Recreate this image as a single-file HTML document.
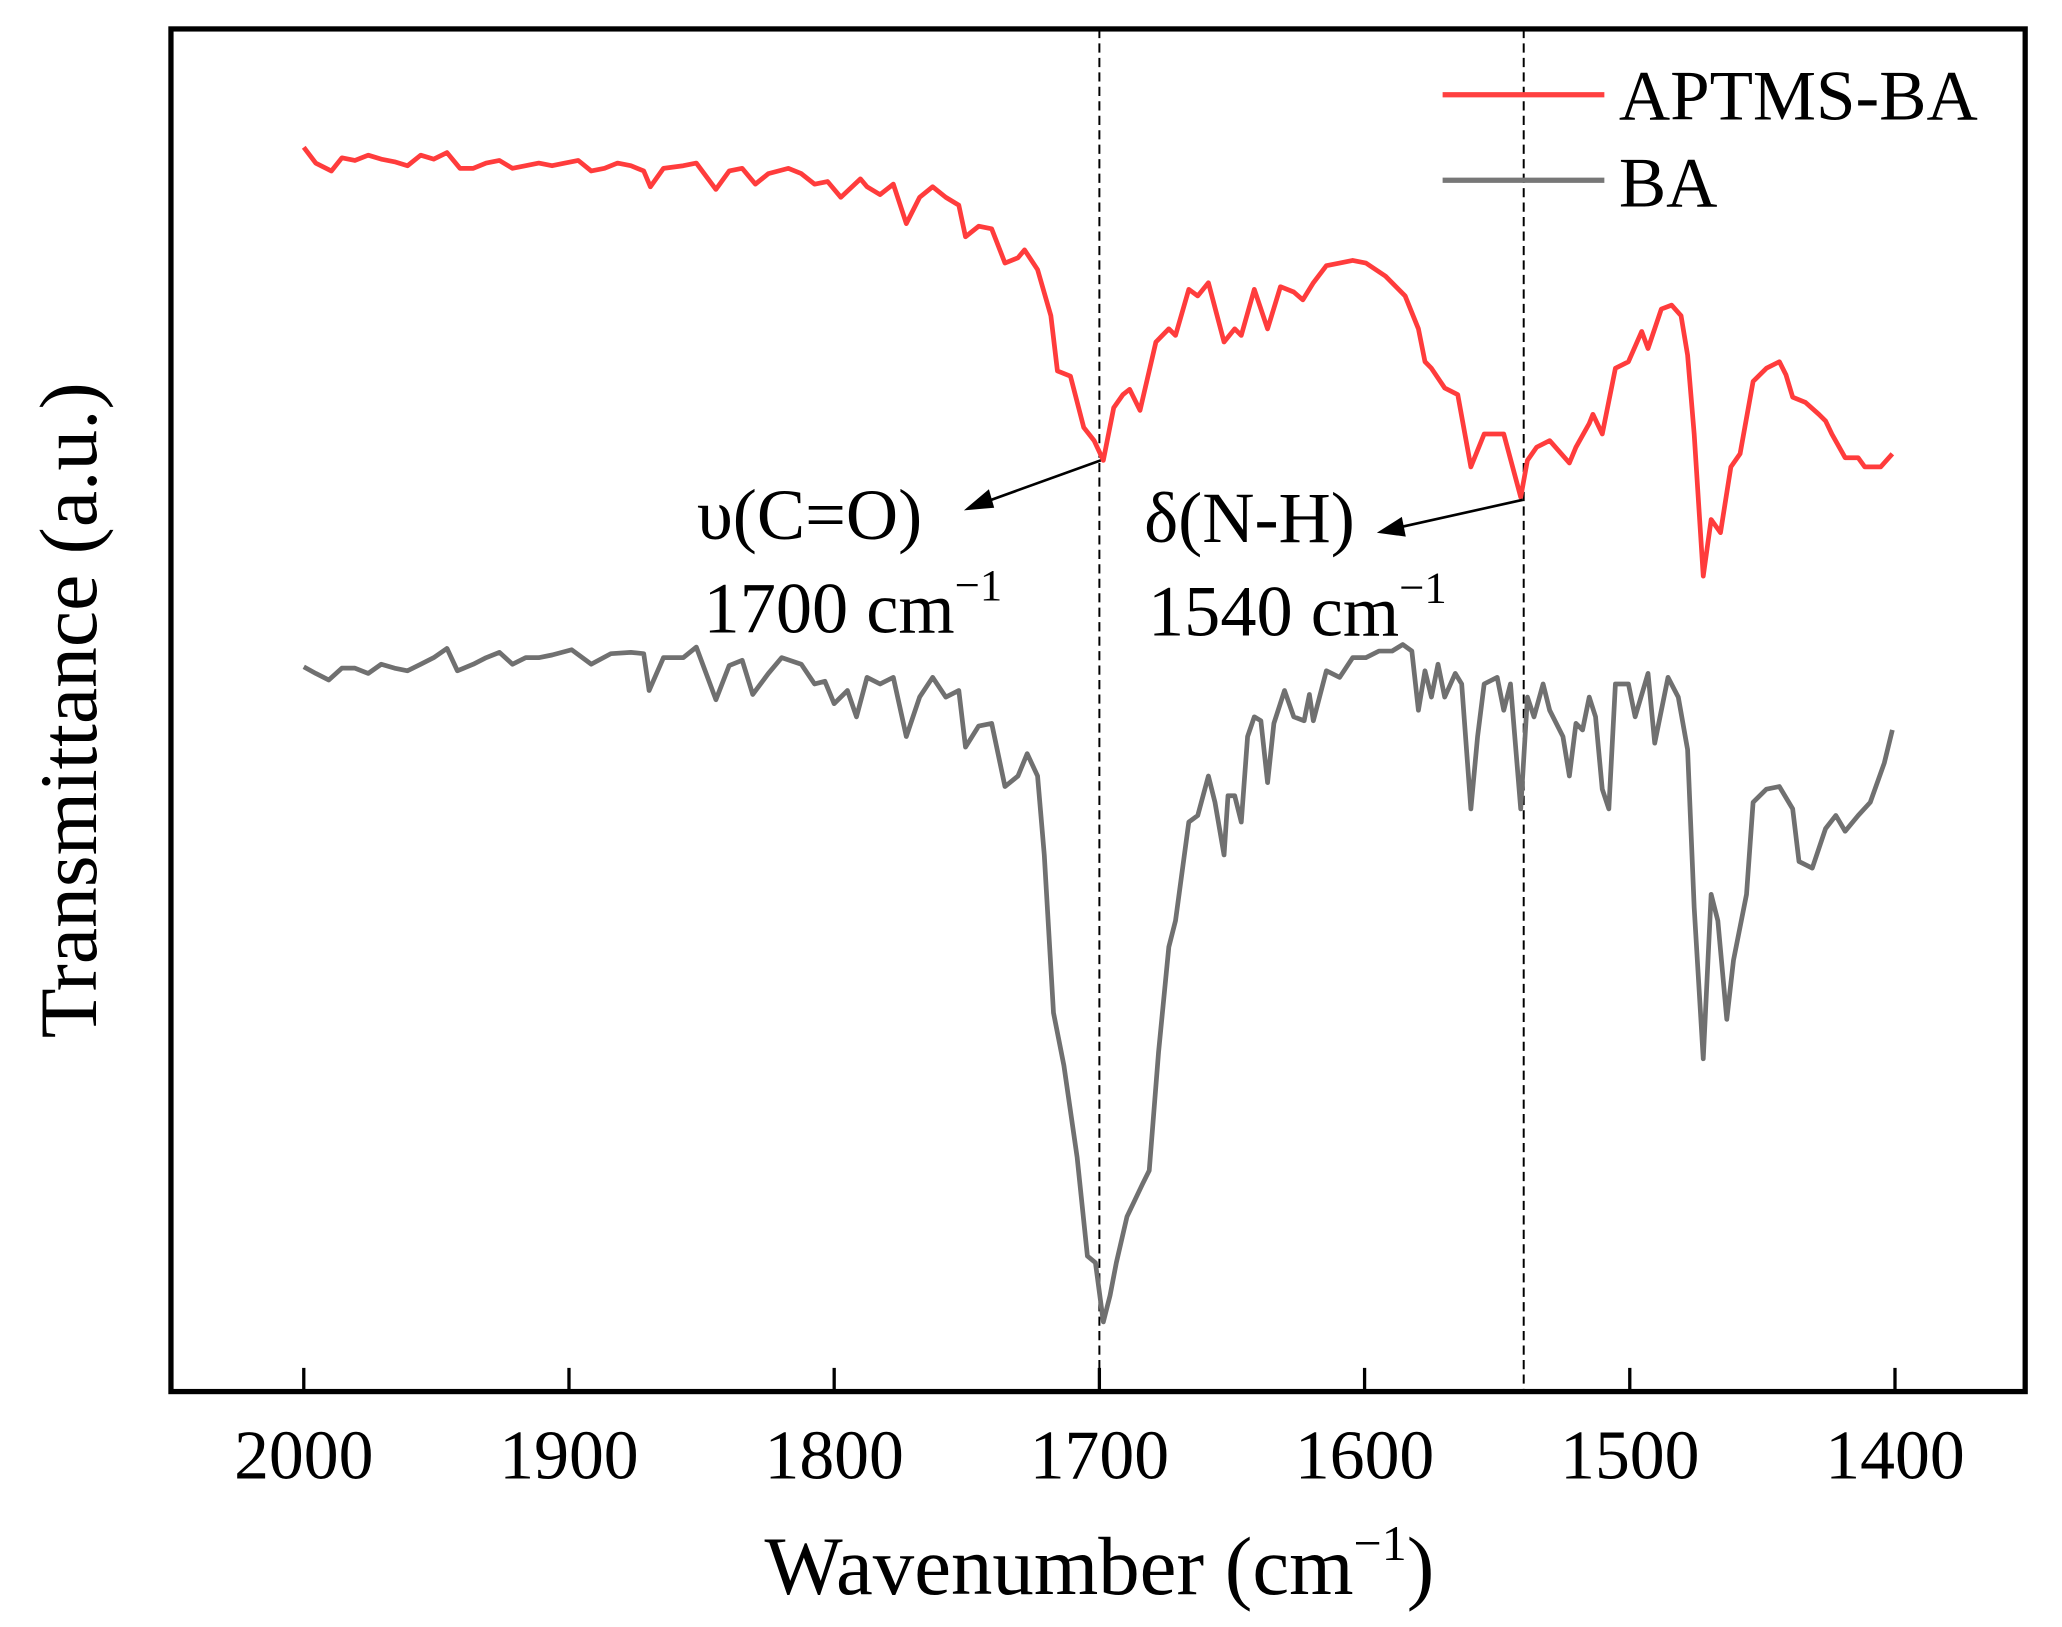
<!DOCTYPE html>
<html><head><meta charset="utf-8"><style>
html,body{margin:0;padding:0;background:#fff;}
svg{display:block;font-family:"Liberation Serif",serif;}
</style></head><body>
<svg id="chart" width="2062" height="1627" viewBox="0 0 1568 1237" preserveAspectRatio="none" xmlns="http://www.w3.org/2000/svg">
<rect x="0" y="0" width="1568" height="1237" fill="#fff"/>
<g id="plot"></g>
<rect x="130" y="22" width="1410" height="1036" fill="none" stroke="#000" stroke-width="4"/>
<g id="ticks"></g>
<text x="836" y="1212" font-size="63" text-anchor="middle">Wavenumber (cm<tspan font-size="38" dy="-26">−1</tspan><tspan dy="26">)</tspan></text>
<text transform="translate(73,540) rotate(-90)" font-size="62" text-anchor="middle">Transmittance (a.u.)</text>
<g>
<line x1="1097" y1="72" x2="1220" y2="72" stroke="#ff4040" stroke-width="4"/>
<text x="1231" y="91" font-size="54">APTMS-BA</text>
<line x1="1097" y1="137" x2="1220" y2="137" stroke="#777" stroke-width="4"/>
<text x="1231" y="157" font-size="54">BA</text>
</g>
<g>
<line x1="837" y1="350" x2="740" y2="385" stroke="#000" stroke-width="2"/>
<polygon points="733,388 752,372 756,386" fill="#000"/>
<text x="530" y="410" font-size="55">υ(C=O)</text>
<text x="535" y="481" font-size="55">1700 cm<tspan font-size="34" dy="-25">−1</tspan></text>
</g>
<g>
<line x1="1158" y1="380" x2="1055" y2="403" stroke="#000" stroke-width="2"/>
<polygon points="1047,405 1066,393 1069,408" fill="#000"/>
<text x="870" y="412" font-size="55">δ(N-H)</text>
<text x="873" y="483" font-size="55">1540 cm<tspan font-size="34" dy="-25">−1</tspan></text>
</g>
</svg>
<script>
const xTicks=[2000,1900,1800,1700,1600,1500,1400];
const markerLines=[1700,1540];
const redWave=[2000,1995.5,1989.6,1985.6,1980.7,1975.7,1970.8,1965.8,1960.9,1955.9,1951,1946,1941.1,1936.1,1931.2,1926.2,1921.3,1916.3,1911.4,1906.4,1901.5,1896.5,1891.6,1886.6,1881.7,1876.7,1871.8,1869.3,1864.4,1856.9,1852,1844.6,1839.6,1834.7,1829.7,1824.8,1817.3,1812.4,1807.4,1802.5,1797.5,1790.1,1787.6,1782.7,1777.7,1772.8,1767.8,1762.9,1757.9,1753,1750.5,1745.5,1740.6,1735.6,1730.7,1728.2,1723.3,1718.3,1715.8,1710.9,1705.9,1702,1698.5,1694.6,1691.1,1688.6,1684.7,1678.7,1673.8,1671.3,1666.3,1662.9,1658.9,1653,1649,1646.5,1641.6,1636.6,1631.7,1626.7,1623.3,1619.3,1614.4,1609.4,1604.5,1599.5,1592.1,1584.7,1579.7,1577.2,1574.8,1569.8,1564.9,1559.9,1554.9,1547.5,1541.1,1538.6,1535.1,1530.2,1522.8,1520.3,1515.3,1513.9,1510.4,1505.4,1500.5,1495.5,1493.1,1488.1,1484.2,1480.7,1478.2,1475.7,1472.3,1469.3,1465.8,1461.9,1458.4,1453.5,1448.5,1443.6,1441.1,1438.6,1433.7,1428.7,1426.2,1423.8,1418.8,1413.9,1411.4,1405.4,1401];
const redT=[948,936,930,940,938,942,939,937,934,942,939,944,932,932,936,938,932,934,936,934,936,938,930,932,936,934,930,918,932,934,936,916,930,932,920,928,932,928,920,922,910,924,918,912,920,890,910,918,910,904,880,888,886,860,864,870,855,820,778,774,735,725,710,750,760,764,748,800,810,805,840,835,845,800,810,805,840,810,842,838,832,845,858,860,862,860,850,835,810,785,780,765,760,705,730,730,682,710,720,725,708,720,738,745,730,780,785,808,795,825,828,820,790,730,622,665,655,705,715,770,780,785,775,758,754,745,740,730,712,712,705,705,715];
const grayWave=[2000,1995.5,1990.6,1985.6,1980.7,1975.7,1970.8,1965.8,1960.9,1955.9,1951,1946,1942.1,1936.1,1931.2,1926.2,1921.3,1916.3,1911.4,1906.4,1899,1891.6,1884.2,1876.7,1871.8,1869.8,1864.4,1856.9,1852,1844.6,1839.6,1834.7,1830.7,1824.8,1819.8,1812.4,1807.4,1803.5,1800,1795,1791.6,1787.6,1782.7,1777.7,1772.8,1767.8,1762.9,1757.9,1753,1750.5,1745.5,1740.6,1735.6,1730.7,1727.2,1723.3,1720.8,1717.3,1713.4,1708.4,1704.5,1701.5,1698.5,1696,1693.6,1689.6,1683.7,1681.2,1677.7,1673.8,1671.3,1666.3,1662.9,1658.9,1656.4,1653,1651.5,1649,1646.5,1644.1,1641.6,1639.1,1636.6,1634.2,1630.2,1626.7,1622.8,1620.8,1619.3,1614.4,1609.4,1604.5,1599.5,1594.6,1589.6,1585.6,1582.2,1579.7,1577.2,1574.8,1572.3,1569.8,1565.8,1563.4,1559.9,1557.4,1554.9,1550,1547.5,1545,1541.1,1538.6,1536.1,1532.7,1530.2,1525.2,1522.8,1520.3,1517.8,1515.3,1512.9,1510.4,1507.9,1505.4,1500.5,1498,1493.1,1490.6,1485.6,1481.7,1478.2,1475.7,1472.3,1469.3,1466.8,1463.4,1460.9,1456,1453.5,1448.5,1443.6,1438.6,1436.2,1431.2,1426.2,1422.3,1418.8,1413.9,1409.3,1404,1401];
const grayT=[553,548,543,552,552,548,555,552,550,555,560,567,550,555,560,564,555,560,560,562,566,555,563,564,563,535,560,560,568,528,554,558,532,548,560,555,540,542,525,535,515,545,540,545,500,530,545,530,535,492,508,510,462,470,487,470,410,290,250,180,105,100,55,75,100,135,160,170,260,340,360,435,440,470,450,410,455,455,435,500,515,512,465,510,535,515,512,532,512,550,545,560,560,565,565,570,565,520,550,530,555,530,548,540,445,500,540,545,520,540,445,530,515,540,520,500,470,510,505,530,515,460,445,540,540,515,548,495,545,530,490,370,255,380,360,285,330,380,450,460,462,445,405,400,430,440,428,440,450,480,505];
const X0=231,X1=1441;
function xScale(w){return X0+(2000-w)*(X1-X0)/600;}
function yScale(t){return 1060-t;}
const NS="http://www.w3.org/2000/svg";
const plot=document.getElementById('plot');
markerLines.forEach(w=>{
  const l=document.createElementNS(NS,'line');
  l.setAttribute('x1',xScale(w));l.setAttribute('x2',xScale(w));
  l.setAttribute('y1',22);l.setAttribute('y2',1058);
  l.setAttribute('stroke','#000');l.setAttribute('stroke-width','1.5');l.setAttribute('stroke-dasharray','7,4');
  
  
  plot.appendChild(l);
});
function series(ws,ts,color,name){
  const p=document.createElementNS(NS,'polyline');
  p.setAttribute('points',ws.map((w,i)=>xScale(w).toFixed(1)+','+yScale(ts[i]).toFixed(1)).join(' '));
  p.setAttribute('fill','none');p.setAttribute('stroke',color);p.setAttribute('stroke-width','3.6');p.setAttribute('stroke-linejoin','round');
  
  
  plot.appendChild(p);
}
series(grayWave,grayT,'#707070','series-ba');
series(redWave,redT,'#ff3c3c','series-aptms-ba');
const tg=document.getElementById('ticks');
xTicks.forEach(w=>{
  const l=document.createElementNS(NS,'line');
  l.setAttribute('x1',xScale(w));l.setAttribute('x2',xScale(w));
  l.setAttribute('y1',1058);l.setAttribute('y2',1040);
  l.setAttribute('stroke','#000');l.setAttribute('stroke-width','2.5');
  
  
  tg.appendChild(l);
  const t=document.createElementNS(NS,'text');
  t.setAttribute('x',xScale(w));t.setAttribute('y',1124);
  t.setAttribute('font-size','53');t.setAttribute('text-anchor','middle');
  t.textContent=w;
  
  
  tg.appendChild(t);
});
</script>
</body></html>
